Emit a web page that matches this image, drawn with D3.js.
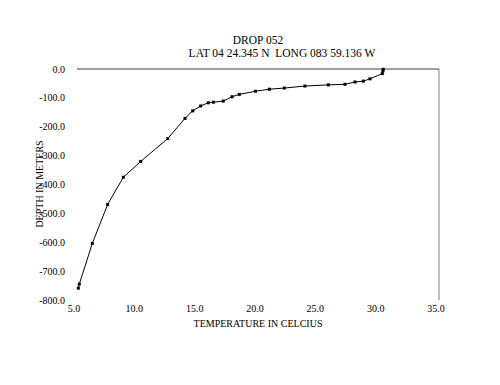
<!DOCTYPE html>
<html>
<head>
<meta charset="utf-8">
<script src="https://cdn.jsdelivr.net/npm/d3@7"></script>
<style>
  body { margin: 0; background: #fff; }
  text { font-family: "Liberation Serif", "Times New Roman", serif; fill: #000; }
</style>
</head>
<body>
<div id="svg"></div>
<script>
/* Data (temperature C, depth m). */
const temperature = [5.11, 5.19, 6.27, 7.54, 8.84, 10.28, 12.52, 13.95, 14.59, 15.25, 15.88, 16.30,
  17.12, 17.85, 18.45, 19.79, 20.94, 22.18, 23.89, 25.83, 27.21, 28.04, 28.73, 29.28, 30.30, 30.35, 30.38]
const depth = [-759, -745, -604, -469, -375, -320, -241, -171, -145, -128, -117, -115,
  -111, -96, -88, -77, -70, -66, -59, -55, -53, -45, -42, -34, -16, -7, -1]

/* Tick values. */
const xTicks = [5, 10, 15, 20, 25, 30, 35]
const yTicks = [0, -100, -200, -300, -400, -500, -600, -700, -800]

/* Define svg-size. */
const width = 500
const height = 385

/* Create svg-element. */
const svg = d3.select("#svg")
  .append("svg")
  .attr("width", width)
  .attr("height", height)

/* Define scales. */
const x = d3.scaleLinear().domain([5, 35]).range([77, 439])
const y = d3.scaleLinear().domain([0, -800]).range([69, 300])

/* Plot area border on the right. */
svg.append("line")
  .attr("x1", x(35)).attr("x2", x(35))
  .attr("y1", y(0)).attr("y2", y(-800))
  .attr("stroke", "#808080")

/* X axis line at depth 0. */
svg.append("line")
  .attr("x1", x(5)).attr("x2", x(35))
  .attr("y1", y(0)).attr("y2", y(0))
  .attr("stroke", "#404040")

/* Y tick labels. */
svg.selectAll(".ytick")
  .data(yTicks)
  .enter()
  .append("text")
  .attr("class", "ytick")
  .attr("x", 65)
  .attr("y", d => y(d) + 3.5)
  .attr("text-anchor", "end")
  .style("font-size", "10px")
  .text(d => d3.format(".1f")(d).replace("−", "-"))

/* X tick labels. */
svg.selectAll(".xtick")
  .data(xTicks)
  .enter()
  .append("text")
  .attr("class", "xtick")
  .attr("x", d => x(d) - 3)
  .attr("y", 312)
  .attr("text-anchor", "middle")
  .style("font-size", "10px")
  .text(d => d3.format(".1f")(d))

/* Profile line. */
const points = temperature.map((t, i) => [t, depth[i]])

const line = d3.line()
  .x(d => x(d[0]))
  .y(d => y(d[1]))

svg.append("path")
  .datum(points)
  .attr("d", line)
  .attr("fill", "none")
  .attr("stroke", "#000")
  .attr("stroke-width", 1)

/* Markers. */
svg.selectAll(".marker")
  .data(points)
  .enter()
  .append("rect")
  .attr("class", "marker")
  .attr("x", d => x(d[0]) - 1.5)
  .attr("y", d => y(d[1]) - 1.5)
  .attr("width", 3)
  .attr("height", 3)
  .attr("fill", "#000")

/* Titles. */
svg.append("text")
  .attr("x", 258)
  .attr("y", 44)
  .attr("text-anchor", "middle")
  .style("font-size", "11.5px")
  .text("DROP 052")

svg.append("text")
  .attr("x", 282)
  .attr("y", 57)
  .attr("text-anchor", "middle")
  .style("font-size", "11.5px")
  .style("white-space", "pre")
  .attr("xml:space", "preserve")
  .text("LAT 04 24.345 N  LONG 083 59.136 W")

svg.append("text")
  .attr("x", 258)
  .attr("y", 327)
  .attr("text-anchor", "middle")
  .style("font-size", "10px")
  .text("TEMPERATURE IN CELCIUS")

svg.append("text")
  .attr("transform", "translate(43,184) rotate(-90)")
  .attr("text-anchor", "middle")
  .style("font-size", "10px")
  .text("DEPTH IN METERS")
</script>
</body>
</html>
